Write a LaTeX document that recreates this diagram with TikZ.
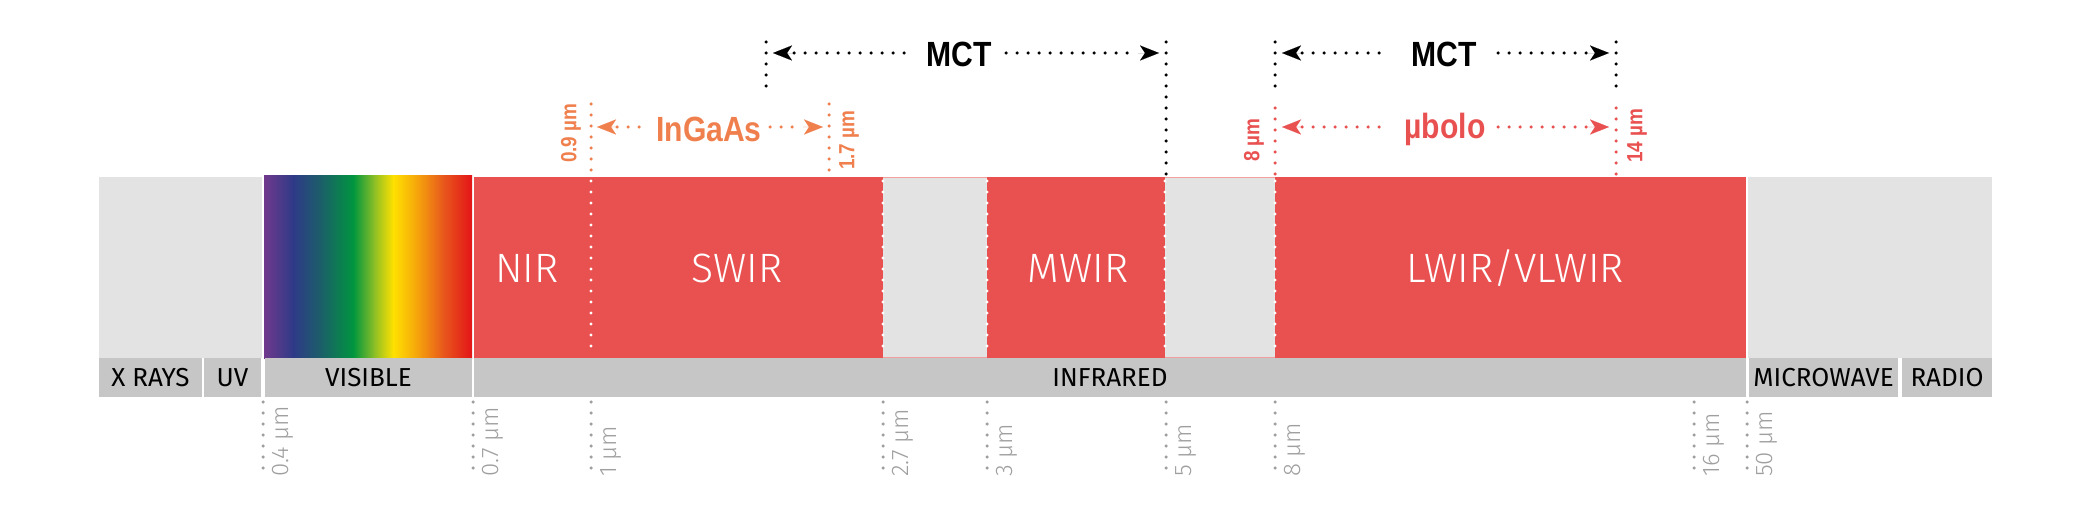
\documentclass[tikz,border=0pt]{standalone}
\usepackage{fontspec}
\usepackage{graphicx}
\setmainfont{Fira Sans}
\newfontfamily\thinfont{Fira Sans Light}
\newfontfamily\boldfont{Liberation Sans}
\usetikzlibrary{arrows.meta}
\newcommand{\cond}[1]{\scalebox{0.86}[1]{#1}}
\definecolor{irred}{HTML}{E95151}
\definecolor{lgray}{HTML}{E3E3E3}
\definecolor{mgray}{HTML}{C6C6C6}
\definecolor{tgray}{HTML}{9F9F9F}
\definecolor{ingaas}{HTML}{F07F4E}
\definecolor{sp0}{HTML}{70398D}
\definecolor{sp1}{HTML}{2E3A87}
\definecolor{sp2}{HTML}{1A6167}
\definecolor{sp3}{HTML}{00963E}
\definecolor{sp4}{HTML}{8DBF26}
\definecolor{sp5}{HTML}{FFE100}
\definecolor{sp6}{HTML}{F5A20C}
\definecolor{sp7}{HTML}{E8581C}
\definecolor{sp8}{HTML}{E31418}
\tikzset{
  dotline/.style={line width=3.5pt, line cap=round, dash pattern=on 0pt off 11pt},
  wdots/.style={draw=white, line width=3.2pt, line cap=round, dash pattern=on 0pt off 11pt},
  tiparrow/.style={-{Stealth[length=19pt,width=15pt,inset=5pt]}, line width=0.01pt},
  band/.style={font=\thinfont\fontsize{41}{41}\selectfont, text=white, inner sep=0pt},
  cat/.style={font=\fontsize{26}{26}\selectfont, text=black, inner sep=0pt},
  tickline/.style={dotline, draw=tgray, line width=3.5pt},
  ticklab/.style={rotate=90, anchor=west, font=\thinfont\fontsize{24}{24}\selectfont, text=tgray, inner sep=0pt},
  det/.style={font=\boldfont\bfseries\fontsize{35}{35}\selectfont, inner sep=0pt},
  detlab/.style={rotate=90, anchor=west, inner sep=0pt, font=\boldfont\bfseries\fontsize{22}{22}\selectfont},
}
\begin{document}
\begin{tikzpicture}[x=1pt,y=-1pt]
\useasboundingbox (0,0) rectangle (2092,510);
% upper blocks
\fill[lgray] (99,177) rectangle (262,358);
\shade[left color=sp0, right color=sp1] (264,176) rectangle (293.6,358);
\shade[left color=sp1, right color=sp2] (293.1,176) rectangle (322.7,358);
\shade[left color=sp2, right color=sp3] (322.2,176) rectangle (353.9,358);
\shade[left color=sp3, right color=sp4] (353.4,176) rectangle (374.7,358);
\shade[left color=sp4, right color=sp5] (374.2,176) rectangle (393.5,358);
\shade[left color=sp5, right color=sp6] (393.0,176) rectangle (418.4,358);
\shade[left color=sp6, right color=sp7] (417.9,176) rectangle (443.4,358);
\shade[left color=sp7, right color=sp8] (442.9,176) rectangle (472,358);
\fill[irred] (474,177) rectangle (1746,358);
\fill[lgray] (883,177) rectangle (987,358);
\fill[lgray] (1165,177) rectangle (1275,358);
\fill[lgray] (1748,177) rectangle (1992,358);
\draw[irred!55, line width=1pt] (883,177.5) -- (987,177.5) (883,357.5) -- (987,357.5)
  (1165,177.5) -- (1275,177.5) (1165,357.5) -- (1275,357.5);
% category bar
\fill[mgray] (99,358) rectangle (202,397);
\fill[mgray] (204,358) rectangle (261,397);
\fill[mgray] (265,358) rectangle (472,397);
\fill[mgray] (474,358) rectangle (1746,397);
\fill[mgray] (1749,358) rectangle (1898,397);
\fill[mgray] (1902,358) rectangle (1992,397);
\node[cat] (xr) at (150.5,378) {X RAYS};
\node[cat] (uv) at (232.5,378) {UV};
\node[cat] (vis) at (368.5,378) {VISIBLE};
\node[cat] (ir) at (1110,378) {INFRARED};
\node[cat] (mw) at (1823.5,378) {MICROWAVE};
\node[cat] (rad) at (1947,378) {RADIO};
% white dotted lines in bar
\foreach \x in {591,883,987,1165,1275} \draw[wdots] (\x,181) -- (\x,356);
% band labels
\node[band] (nir) at (527,268) {NIR};
\node[band] (swir) at (737,268) {SWIR};
\node[band] (mwir) at (1078,268) {MWIR};
\node[band] (lwir) at (1515,268) {LWIR/VLWIR};
% bottom ticks
\foreach \x/\t in {263/0.4,473/0.7,591/1,883/2.7,987/3,1166/5,1275/8,1694/16,1747/50} {
  \coordinate (ta\x) at (\x,402);
  \coordinate (tb\x) at (\x,477);
  \draw[tickline] (ta\x) -- (tb\x);
  \node[ticklab] (tl\x) at (\x+20,477) {\t\ µm};
}
% MCT 1
\coordinate (m1a) at (766,42); \coordinate (m1b) at (766,89);
\coordinate (m1c) at (1166,42); \coordinate (m1d) at (1166,177);
\draw[dotline] (m1a) -- (m1b);
\draw[dotline] (m1c) -- (m1d);
\node[det] (mct1) at (959,54) {\cond{MCT}};
\coordinate (m1l1) at (794,53); \coordinate (m1l2) at (913,53);
\coordinate (m1r1) at (1006,53); \coordinate (m1r2) at (1138,53);
\draw[dotline] (m1l1) -- (m1l2);
\draw[dotline] (m1r1) -- (m1r2);
\coordinate (m1tl) at (773,53); \coordinate (m1tr) at (1159,53);
\draw[tiparrow] (m1l1) -- (m1tl);
\draw[tiparrow] (m1r2) -- (m1tr);
% MCT 2
\coordinate (m2a) at (1275,42); \coordinate (m2b) at (1275,97);
\coordinate (m2c) at (1616,42); \coordinate (m2d) at (1616,97);
\draw[dotline] (m2a) -- (m2b);
\draw[dotline] (m2c) -- (m2d);
\node[det] (mct2) at (1444,54) {\cond{MCT}};
\coordinate (m2l1) at (1302,53); \coordinate (m2l2) at (1390,53);
\coordinate (m2r1) at (1498,53); \coordinate (m2r2) at (1588,53);
\draw[dotline] (m2l1) -- (m2l2);
\draw[dotline] (m2r1) -- (m2r2);
\coordinate (m2tl) at (1282,53); \coordinate (m2tr) at (1609,53);
\draw[tiparrow] (m2l1) -- (m2tl);
\draw[tiparrow] (m2r2) -- (m2tr);
% InGaAs
\coordinate (ia) at (591,104); \coordinate (ib) at (591,177);
\coordinate (ic) at (829,104); \coordinate (id) at (829,177);
\draw[dotline, draw=ingaas] (ia) -- (ib);
\draw[dotline, draw=ingaas] (ic) -- (id);
\node[det, text=ingaas] (ing) at (709,129) {\cond{InGaAs}};
\coordinate (il1) at (617,127); \coordinate (il2) at (650,127);
\coordinate (ir1) at (770,127); \coordinate (ir2) at (803,127);
\draw[dotline, draw=ingaas] (il1) -- (il2);
\draw[dotline, draw=ingaas] (ir1) -- (ir2);
\coordinate (itl) at (597,127); \coordinate (itr) at (823,127);
\draw[tiparrow, draw=ingaas, fill=ingaas] (il1) -- (itl);
\draw[tiparrow, draw=ingaas, fill=ingaas] (ir2) -- (itr);
\node[detlab, text=ingaas] (l09) at (571,163) {\cond{0.9 µm}};
\node[detlab, text=ingaas] (l17) at (849,170) {\cond{1.7 µm}};
% ubolo
\coordinate (ba) at (1275,108); \coordinate (bb) at (1275,177);
\coordinate (bc) at (1616,108); \coordinate (bd) at (1616,177);
\draw[dotline, draw=irred] (ba) -- (bb);
\draw[dotline, draw=irred] (bc) -- (bd);
\node[det, text=irred] (bolo) at (1445,129) {\cond{µbolo}};
\coordinate (bl1) at (1302,127); \coordinate (bl2) at (1390,127);
\coordinate (br1) at (1498,127); \coordinate (br2) at (1588,127);
\draw[dotline, draw=irred] (bl1) -- (bl2);
\draw[dotline, draw=irred] (br1) -- (br2);
\coordinate (btl) at (1282,127); \coordinate (btr) at (1609,127);
\draw[tiparrow, draw=irred, fill=irred] (bl1) -- (btl);
\draw[tiparrow, draw=irred, fill=irred] (br2) -- (btr);
\node[detlab, text=irred] (l8) at (1254,162) {\cond{8 µm}};
\node[detlab, text=irred] (l14) at (1637,163) {\cond{14 µm}};
\end{tikzpicture}
\end{document}
